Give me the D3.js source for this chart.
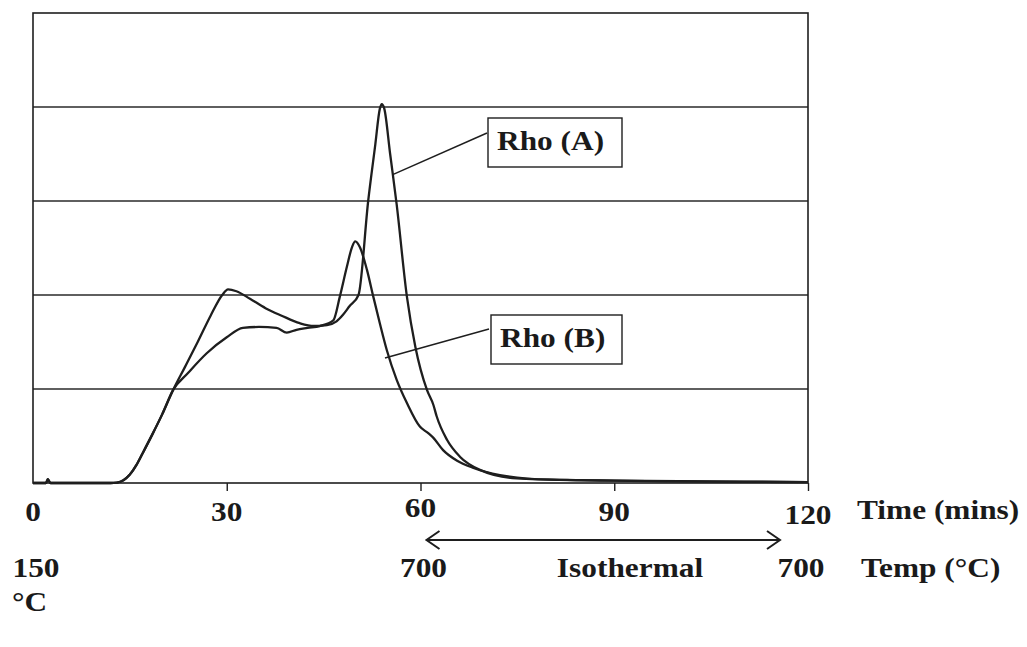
<!DOCTYPE html>
<html>
<head>
<meta charset="utf-8">
<script src="https://cdn.jsdelivr.net/npm/d3@7"></script>
<style>
  html, body { margin: 0; padding: 0; background: #fff; }
  svg { display: block; }
  text { font-family: "Liberation Serif", "Times New Roman", serif; font-weight: bold; fill: #1a1a1a; }
</style>
</head>
<body>
<svg id="chart" width="1027" height="647"></svg>
<script>
// Time axis (minutes) and temperature programme labels
const timeTicks = [0, 30, 60, 90, 120];
const tempTimes = [0, 60, 120];
const tempLabels = ["150", "700", "700"];

// Rho (A) trace: time (min) and signal
const timeA = [0, 2, 2.3, 2.7, 6, 12, 13, 14, 15, 16, 17, 18.5, 20, 21.7, 23.5, 25.5, 27.5, 29.3, 30.2, 31.5,
  33.6, 36, 38.5, 41.3, 43.5, 45.5, 47, 48, 49, 50.4, 51.9, 53.0, 53.7, 54.0, 54.4, 55.3, 56.3, 57.9,
  59.2, 61.0, 62.0, 62.5, 64.1, 66.1, 69.2, 74.9, 85, 95, 105, 120];
const rhoA = [0, 0, 0.04, 0, 0, 0, 0.005, 0.03, 0.09, 0.19, 0.32, 0.52, 0.73, 0.99, 1.23, 1.5, 1.78, 2.0, 2.06, 2.04,
  1.96, 1.86, 1.78, 1.70, 1.67, 1.68, 1.72, 1.79, 1.88, 2.0, 3.0, 3.6, 3.98, 4.03, 3.98, 3.5, 2.97, 1.98,
  1.45, 0.99, 0.83, 0.71, 0.46, 0.28, 0.14, 0.05, 0.03, 0.02, 0.015, 0.01];

// Rho (B) trace: time (min) and signal
const timeB = [0, 2, 2.3, 2.7, 6, 12, 13, 14, 15, 16, 17, 18.5, 20, 21.7, 24, 26.9, 30, 32.5, 35, 37.7,
  39.3, 40.8, 42.5, 44.4, 46.5, 47.5, 48.6, 49.4, 49.9, 50.6, 51.7, 52.7, 53.7, 54.8, 56.3, 57.9, 59.9,
  61.2, 62.0, 63.5, 65.6, 68.2, 72.3, 80, 90, 100, 110, 120];
const rhoB = [0, 0, 0.04, 0, 0, 0, 0.005, 0.03, 0.09, 0.19, 0.32, 0.52, 0.73, 0.99, 1.17, 1.38, 1.55, 1.65, 1.66, 1.65,
  1.60, 1.63, 1.65, 1.67, 1.73, 1.98, 2.30, 2.51, 2.57, 2.51, 2.27, 1.98, 1.70, 1.41, 1.10, 0.85, 0.60,
  0.53, 0.48, 0.35, 0.24, 0.16, 0.085, 0.035, 0.025, 0.02, 0.015, 0.01];

const gridValues = [1, 2, 3, 4];

const svg = d3.select("#chart");
const plot = { left: 33, right: 808, top: 13, bottom: 483 };

const x = d3.scaleLinear().domain([0, 120]).range([plot.left, plot.right]);
const y = d3.scaleLinear().domain([0, 5]).range([plot.bottom, plot.top]);

const ink = "#1e1e1e";
const FONT = 28, STRETCH = 1.12;

// wide bold serif label, stretched horizontally about its anchor point
function label(parent, px, py, str, anchor) {
  return parent.append("text")
    .attr("transform", `translate(${px},${py}) scale(${STRETCH},1)`)
    .attr("text-anchor", anchor || "start")
    .attr("font-size", FONT)
    .text(str);
}

// horizontal gridlines
svg.append("g").selectAll("line").data(gridValues).join("line")
  .attr("x1", plot.left).attr("x2", plot.right)
  .attr("y1", d => y(d)).attr("y2", d => y(d))
  .attr("stroke", "#2a2a2a").attr("stroke-width", 1.3);

// frame
svg.append("rect")
  .attr("x", plot.left).attr("y", plot.top)
  .attr("width", plot.right - plot.left).attr("height", plot.bottom - plot.top)
  .attr("fill", "none").attr("stroke", ink).attr("stroke-width", 1.6);

// bottom tick marks
const axis = d3.axisBottom(x).tickValues([30, 60, 90, 120]).tickSize(8).tickFormat("");
const gAxis = svg.append("g").attr("transform", `translate(0,${plot.bottom})`).call(axis);
gAxis.select(".domain").remove();
gAxis.selectAll("line").attr("stroke", ink).attr("stroke-width", 1.4);

// traces
const line = d3.line().x(d => x(d[0])).y(d => y(d[1])).curve(d3.curveMonotoneX);
const seriesA = timeA.map((t, i) => [t, rhoA[i]]);
const seriesB = timeB.map((t, i) => [t, rhoB[i]]);

svg.append("path").datum(seriesB).attr("d", line)
  .attr("fill", "none").attr("stroke", ink).attr("stroke-width", 2.3).attr("stroke-linejoin", "round");
svg.append("path").datum(seriesA).attr("d", line)
  .attr("fill", "none").attr("stroke", ink).attr("stroke-width", 2.3).attr("stroke-linejoin", "round");

// callout labels with leader lines
const callouts = [
  { name: "Rho (A)", t: 55.7, v: 3.28, bx: 488, by: 118, bw: 134, bh: 49, lx: 487, ly: 133 },
  { name: "Rho (B)", t: 54.5, v: 1.33, bx: 491, by: 315, bw: 131, bh: 49, lx: 489, ly: 329 }
];
callouts.forEach(c => {
  svg.append("line")
    .attr("x1", x(c.t)).attr("y1", y(c.v)).attr("x2", c.lx).attr("y2", c.ly)
    .attr("stroke", ink).attr("stroke-width", 1.5);
  svg.append("rect")
    .attr("x", c.bx).attr("y", c.by).attr("width", c.bw).attr("height", c.bh)
    .attr("fill", "#fff").attr("stroke", ink).attr("stroke-width", 1.4);
  label(svg, c.bx + 9, c.by + 32, c.name);
});

// time labels
const gTime = svg.append("g");
timeTicks.forEach(t => label(gTime, x(t), t === 60 ? 517 : (t === 120 ? 524 : 521), String(t), "middle"));
label(svg, 857, 519, "Time (mins)");

// temperature labels
const gTemp = svg.append("g");
tempTimes.forEach((t, i) => label(gTemp, i === 2 ? x(t) - 7 : x(t) + 3, 577, tempLabels[i], "middle"));
label(svg, 12, 611, "°C");
label(svg, 630, 577, "Isothermal", "middle");
label(svg, 861, 577, "Temp (°C)");

// isothermal hold arrow (60 to 120 min)
const ay = 540, ax1 = x(60) + 6, ax2 = x(120) - 28;
svg.append("line").attr("x1", ax1).attr("x2", ax2).attr("y1", ay).attr("y2", ay)
  .attr("stroke", ink).attr("stroke-width", 2);
svg.append("path")
  .attr("d", `M${ax1 + 13},${ay - 9}L${ax1},${ay}L${ax1 + 13},${ay + 9}M${ax2 - 13},${ay - 9}L${ax2},${ay}L${ax2 - 13},${ay + 9}`)
  .attr("fill", "none").attr("stroke", ink).attr("stroke-width", 2);
</script>
</body>
</html>
